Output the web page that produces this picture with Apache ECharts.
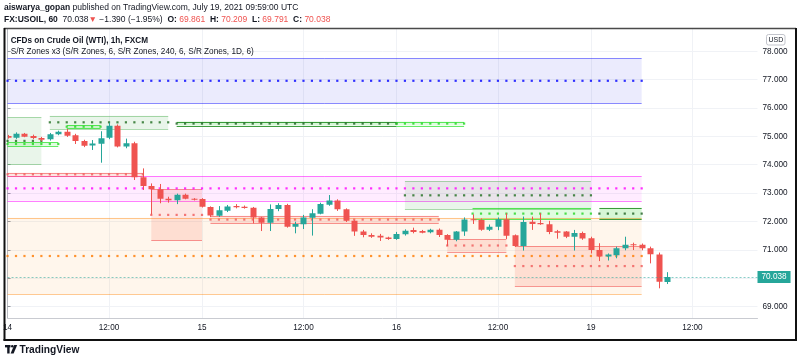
<!DOCTYPE html>
<html><head><meta charset="utf-8">
<script src="https://cdn.jsdelivr.net/npm/echarts@6/dist/echarts.min.js"></script>
<style>html,body{margin:0;padding:0;background:#fff}#c{width:800px;height:362px}</style>
</head><body><div id="c"></div>
<script>
// ---- data: hourly candles, bar index 0 = 14 Jul 00:00 ----
const opens  = [75.01,74.95,75.09,75.01,74.94,74.90,75.07,75.16,75.04,74.84,74.68,74.74,74.95,75.37,74.64,74.76,73.56,73.25,73.13,72.80,72.75,72.94,72.80,72.79,72.51,72.20,72.38,72.54,72.52,72.48,72.14,71.95,72.44,72.58,71.81,71.90,72.13,72.27,72.59,72.74,72.43,72.02,71.64,71.52,71.49,71.43,71.38,71.55,71.70,71.66,71.62,71.71,71.52,71.35,71.64,72.08,72.05,71.71,71.81,72.08,71.51,71.13,71.99,71.94,71.90,71.65,71.64,71.46,71.59,71.41,70.99,70.76,70.81,71.05,71.19,71.18,71.05,70.83,69.861];
const highs  = [75.05,75.14,75.12,75.06,74.98,75.12,75.20,75.26,75.09,74.88,74.87,75.18,75.48,75.42,74.92,74.81,73.87,73.34,73.32,72.87,72.98,72.98,72.82,72.82,72.53,72.54,72.58,72.61,72.56,72.51,72.16,72.60,72.64,72.62,71.99,72.23,72.43,72.66,72.93,72.78,72.46,72.04,71.70,71.58,71.56,71.46,71.63,71.72,71.78,71.70,71.74,71.75,71.55,71.66,72.14,72.25,72.10,71.89,72.14,72.29,71.54,72.17,72.17,72.29,72.02,71.70,71.66,71.70,71.64,71.46,71.23,70.87,71.11,71.46,71.25,71.22,71.11,70.90,70.209];
const lows   = [74.92,74.91,74.97,74.90,74.83,74.85,75.04,74.98,74.73,74.62,74.52,74.07,74.90,74.61,74.58,73.46,73.11,72.24,72.64,72.66,72.61,72.78,72.74,72.49,72.15,72.16,72.33,72.46,72.45,71.93,71.66,71.66,72.36,71.78,71.58,71.73,71.50,72.25,72.55,72.37,71.98,71.49,71.44,71.42,71.31,71.35,71.35,71.50,71.58,71.58,71.58,71.45,71.13,71.30,71.49,71.91,71.67,71.66,71.69,71.38,71.10,70.97,71.70,71.88,71.55,71.39,71.41,70.97,71.35,70.87,70.60,70.62,70.70,70.98,70.99,70.98,70.52,69.64,69.791];
const closes = [74.95,75.09,74.99,74.94,74.88,75.07,75.16,75.02,74.84,74.67,74.75,74.93,75.37,74.64,74.76,73.56,73.25,73.13,72.80,72.75,72.94,72.80,72.78,72.52,72.21,72.39,72.53,72.50,72.47,72.14,71.95,72.44,72.58,71.81,71.91,72.14,72.29,72.61,72.74,72.43,72.02,71.64,71.52,71.46,71.43,71.38,71.56,71.67,71.63,71.60,71.71,71.52,71.35,71.64,72.07,72.05,71.71,71.81,72.08,71.49,71.13,71.98,71.91,71.90,71.63,71.60,71.46,71.59,71.40,70.99,70.76,70.83,71.05,71.18,71.16,71.05,70.84,69.87,70.038];
const lastPrice = 70.038;

// time axis ticks (bar index) and labels
const timeTickIdx    = [0, 12, 23, 35, 46, 58, 69, 81];
const timeTickLabels = ['14', '12:00', '15', '12:00', '16', '12:00', '19', '12:00'];
// price axis ticks
const priceTicks = [69, 70, 71, 72, 73, 74, 75, 76, 77, 78];

// S/R zones: start bar, end bar, low, high, style
const zoneStart = [-1, -1, -1, -1, -1, -1,  5,  7, 20, 46, 17, 24, 52, 60, 47, 55, 70];
const zoneEnd   = [75, 75, 75,  4,  6, 16, 19, 11, 46, 54, 23, 51, 59, 75, 69, 69, 75];
const zoneLow   = [69.43, 72.73, 76.17, 74.01, 74.67, 73.60, 75.26, 75.28, 75.38, 75.38, 71.33, 71.93, 70.93, 69.72, 72.42, 72.07, 72.07];
const zoneHigh  = [72.13, 73.60, 77.75, 75.67, 74.79, 73.72, 75.73, 75.40, 75.52, 75.52, 73.13, 72.20, 71.37, 71.13, 73.42, 72.48, 72.48];
const zoneKind  = ['orange','magenta','blue','green','lime','red','green','lime','dgreen','lime','red','red','red','red','green','lime','dgreen'];

const STY = {
  orange:  {fill:'rgba(255,128,0,0.075)', line:'rgba(255,128,0,0.42)', dot:'#ff7a00'},
  magenta: {fill:'rgba(255,0,255,0.075)', line:'rgba(255,0,255,0.5)',  dot:'#ff00ff'},
  blue:    {fill:'rgba(0,0,230,0.08)',    line:'rgba(0,0,255,0.45)',   dot:'#0000ff'},
  green:   {fill:'rgba(76,175,80,0.12)',  line:'rgba(76,175,80,0.45)', dot:'#1d6b1d'},
  lime:    {fill:'rgba(0,230,0,0.12)',    line:'rgba(0,220,0,0.6)',    dot:'#22d422'},
  dgreen:  {fill:'rgba(0,200,0,0.16)',    line:'rgba(30,140,30,0.85)', dot:'#1b5e20'},
  red:     {fill:'rgba(245,90,70,0.15)',  line:'rgba(240,70,70,0.55)', dot:'#f05a5a'}
};
const UP = '#26a69a', DOWN = '#ef5350';
const FONT = '"Liberation Sans", Arial, sans-serif';
const TXT = '#131722';

const candleData = opens.map((o, i) => [i, o, closes[i], lows[i], highs[i]]);
const zoneData = zoneStart.map((s, k) => [s, zoneEnd[k], zoneLow[k], zoneHigh[k]]);
const dotData = [];
zoneStart.forEach((s, k) => {
  const mid = (zoneLow[k] + zoneHigh[k]) / 2;
  for (let i = Math.max(s, 0); i <= zoneEnd[k]; i++) {
    dotData.push({value: [i, mid], itemStyle: {color: STY[zoneKind[k]].dot}});
  }
});

const chart = echarts.init(document.getElementById('c'));
const crisp = v => Math.round(v) + 0.5;

chart.setOption({
  animation: false,
  backgroundColor: '#ffffff',
  grid: {left: 2.8, right: 42.5, top: 28.5, bottom: 44, containLabel: false},
  xAxis: {
    type: 'value', min: 0, max: 88.7,
    axisLine: {show: true, onZero: false, lineStyle: {color: '#c9cbd1', width: 1}},
    axisTick: {show: false, customValues: timeTickIdx},
    axisLabel: {customValues: timeTickIdx, formatter: v => timeTickLabels[timeTickIdx.indexOf(Math.round(v))] || '',
      fontSize: 8.2, fontFamily: FONT, color: TXT, margin: 6, alignMinLabel: 'center', alignMaxLabel: 'center'},
    splitLine: {show: true, lineStyle: {color: '#f0f2f6', width: 1}}
  },
  yAxis: {
    type: 'value', position: 'right', min: 68.593, max: 78.804, scale: true,
    axisLine: {show: true, lineStyle: {color: '#b8bac0', width: 1}},
    axisTick: {show: true, length: 3, inside: false, customValues: priceTicks, lineStyle: {color: '#9598a1'}},
    axisLabel: {customValues: priceTicks, formatter: v => v.toFixed(3), fontSize: 8.2, fontFamily: FONT, color: TXT, margin: 5},
    splitLine: {show: true, lineStyle: {color: '#f0f2f6', width: 1}}
  },
  series: [
    {
      type: 'custom', name: 'zones', clip: true, z: 1,
      data: zoneData,
      encode: {x: [0, 1], y: [2, 3]},
      renderItem: (params, api) => {
        const st = STY[zoneKind[params.dataIndex]];
        const p0 = api.coord([api.value(0), api.value(3)]);
        const p1 = api.coord([api.value(1), api.value(2)]);
        const cs = params.coordSys;
        const x0 = Math.max(p0[0], cs.x), x1 = Math.min(p1[0], cs.x + cs.width);
        if (x1 <= x0) return null;
        const yt = p0[1], yb = p1[1];
        return {type: 'group', children: [
          {type: 'rect', shape: {x: x0, y: yt, width: x1 - x0, height: yb - yt}, style: {fill: st.fill}},
          {type: 'line', shape: {x1: x0, y1: crisp(yt), x2: x1, y2: crisp(yt)}, style: {stroke: st.line, lineWidth: 1}},
          {type: 'line', shape: {x1: x0, y1: crisp(yb), x2: x1, y2: crisp(yb)}, style: {stroke: st.line, lineWidth: 1}}
        ]};
      }
    },
    {
      type: 'scatter', name: 'zone mids', z: 2, symbol: 'rect', symbolSize: 2.2,
      data: dotData, silent: true,
      markLine: {
        silent: true, symbol: 'none', animation: false,
        data: [{yAxis: lastPrice}],
        lineStyle: {color: 'rgba(38,166,154,0.55)', type: [2, 2], width: 1},
        label: {show: true, position: 'end', formatter: lastPrice.toFixed(3), backgroundColor: UP, color: '#fff',
          padding: [2, 4, 2, 4], fontSize: 8.2, fontFamily: FONT, distance: 0}
      }
    },
    {
      type: 'custom', name: 'USOIL', clip: true, z: 3,
      data: candleData,
      encode: {x: 0, y: [1, 2, 3, 4]},
      renderItem: (params, api) => {
        const i = api.value(0), o = api.value(1), c = api.value(2), l = api.value(3), h = api.value(4);
        const po = api.coord([i, o]), pc = api.coord([i, c]), pl = api.coord([i, l]), ph = api.coord([i, h]);
        const bw = Math.round(api.size([1, 0])[0] * 0.7);
        const color = c >= o ? UP : DOWN;
        const xc = Math.round(po[0]);
        const top = Math.min(po[1], pc[1]), bot = Math.max(po[1], pc[1]);
        const cs = params.coordSys;
        const bx0 = Math.max(xc - bw / 2, cs.x), bx1 = Math.min(xc + bw / 2, cs.x + cs.width);
        return {type: 'group', children: [
          {type: 'line', shape: {x1: xc + 0.5, y1: ph[1], x2: xc + 0.5, y2: pl[1]}, style: {stroke: color, lineWidth: 1}},
          {type: 'rect', shape: {x: bx0 + 0.5, y: top, width: Math.max(bx1 - bx0, 0), height: Math.max(bot - top, 1)}, style: {fill: color}}
        ]};
      }
    }
  ],
  graphic: [
    {type: 'text', x: 4, y: 7.5, style: {text: '{b|aiswarya_gopan}{n| published on TradingView.com, July 19, 2021 09:59:00 UTC}',
      verticalAlign: 'middle', fontSize: 8.5, fontFamily: FONT, fill: TXT,
      rich: {b: {fontWeight: 'bold', fontSize: 8.5, fontFamily: FONT, fill: TXT}, n: {fontSize: 8.5, fontFamily: FONT, fill: TXT}}}},
    {type: 'text', x: 4, y: 19.5, style: {text: '{b|FX:USOIL, 60}{n|  70.038}{r|▼}{n| −1.390 (−1.95%)  }{b|O:}{r| 69.861}{b|  H:}{r| 70.209}{b|  L:}{r| 69.791}{b|  C:}{r| 70.038}',
      verticalAlign: 'middle', fontSize: 8.5, fontFamily: FONT, fill: TXT,
      rich: {b: {fontWeight: 'bold', fontSize: 8.5, fontFamily: FONT, fill: TXT},
             n: {fontSize: 8.5, fontFamily: FONT, fill: TXT},
             r: {fontSize: 8.5, fontFamily: FONT, fill: '#ef5350'}}}},
    {type: 'text', x: 10.7, y: 40.5, z: 10, style: {text: 'CFDs on Crude Oil (WTI), 1h, FXCM', verticalAlign: 'middle', fontSize: 8.2, fontWeight: 'bold', fontFamily: FONT, fill: TXT}},
    {type: 'text', x: 10.7, y: 52, z: 10, style: {text: 'S/R Zones x3 (S/R Zones, 6, S/R Zones, 240, 6, S/R Zones, 1D, 6)', verticalAlign: 'middle', fontSize: 8.2, fontFamily: FONT, fill: TXT}},
    {type: 'rect', z: 10, shape: {x: 766.5, y: 34.5, width: 18.5, height: 10.5, r: 2}, style: {fill: '#fff', stroke: '#c3c5cc', lineWidth: 1}},
    {type: 'text', z: 11, x: 775.8, y: 39.8, style: {text: 'USD', align: 'center', verticalAlign: 'middle', fontSize: 7, fontFamily: FONT, fill: TXT}},
    // outer frame
    {type: 'line', z: 20, shape: {x1: 4, y1: 28.5, x2: 796, y2: 28.5}, style: {stroke: '#4a4a4a', lineWidth: 1.5}},
    {type: 'line', z: 20, shape: {x1: 4.5, y1: 28, x2: 4.5, y2: 340.5}, style: {stroke: '#111', lineWidth: 2}},
    {type: 'line', z: 20, shape: {x1: 796, y1: 28, x2: 796, y2: 340.5}, style: {stroke: '#111', lineWidth: 2}},
    {type: 'line', z: 20, shape: {x1: 3.5, y1: 340, x2: 797, y2: 340}, style: {stroke: '#111', lineWidth: 2}},
    // TradingView logo
    {type: 'group', x: 5, y: 345, z: 20, children: [
      {type: 'rect', shape: {x: 0, y: 0, width: 5.5, height: 2.4}, style: {fill: '#131722'}},
      {type: 'rect', shape: {x: 2.2, y: 0, width: 2.4, height: 8.5}, style: {fill: '#131722'}},
      {type: 'circle', shape: {cx: 7.3, cy: 1.3, r: 1.3}, style: {fill: '#131722'}},
      {type: 'polygon', shape: {points: [[9.2, 0], [12.2, 0], [8.6, 8.5], [5.6, 8.5]]}, style: {fill: '#131722'}}
    ]},
    {type: 'text', x: 19.5, y: 350, z: 20, style: {text: 'TradingView', verticalAlign: 'middle', fontSize: 10.2, fontWeight: 'bold', fontFamily: FONT, fill: TXT}}
  ]
});
</script>
</body></html>
